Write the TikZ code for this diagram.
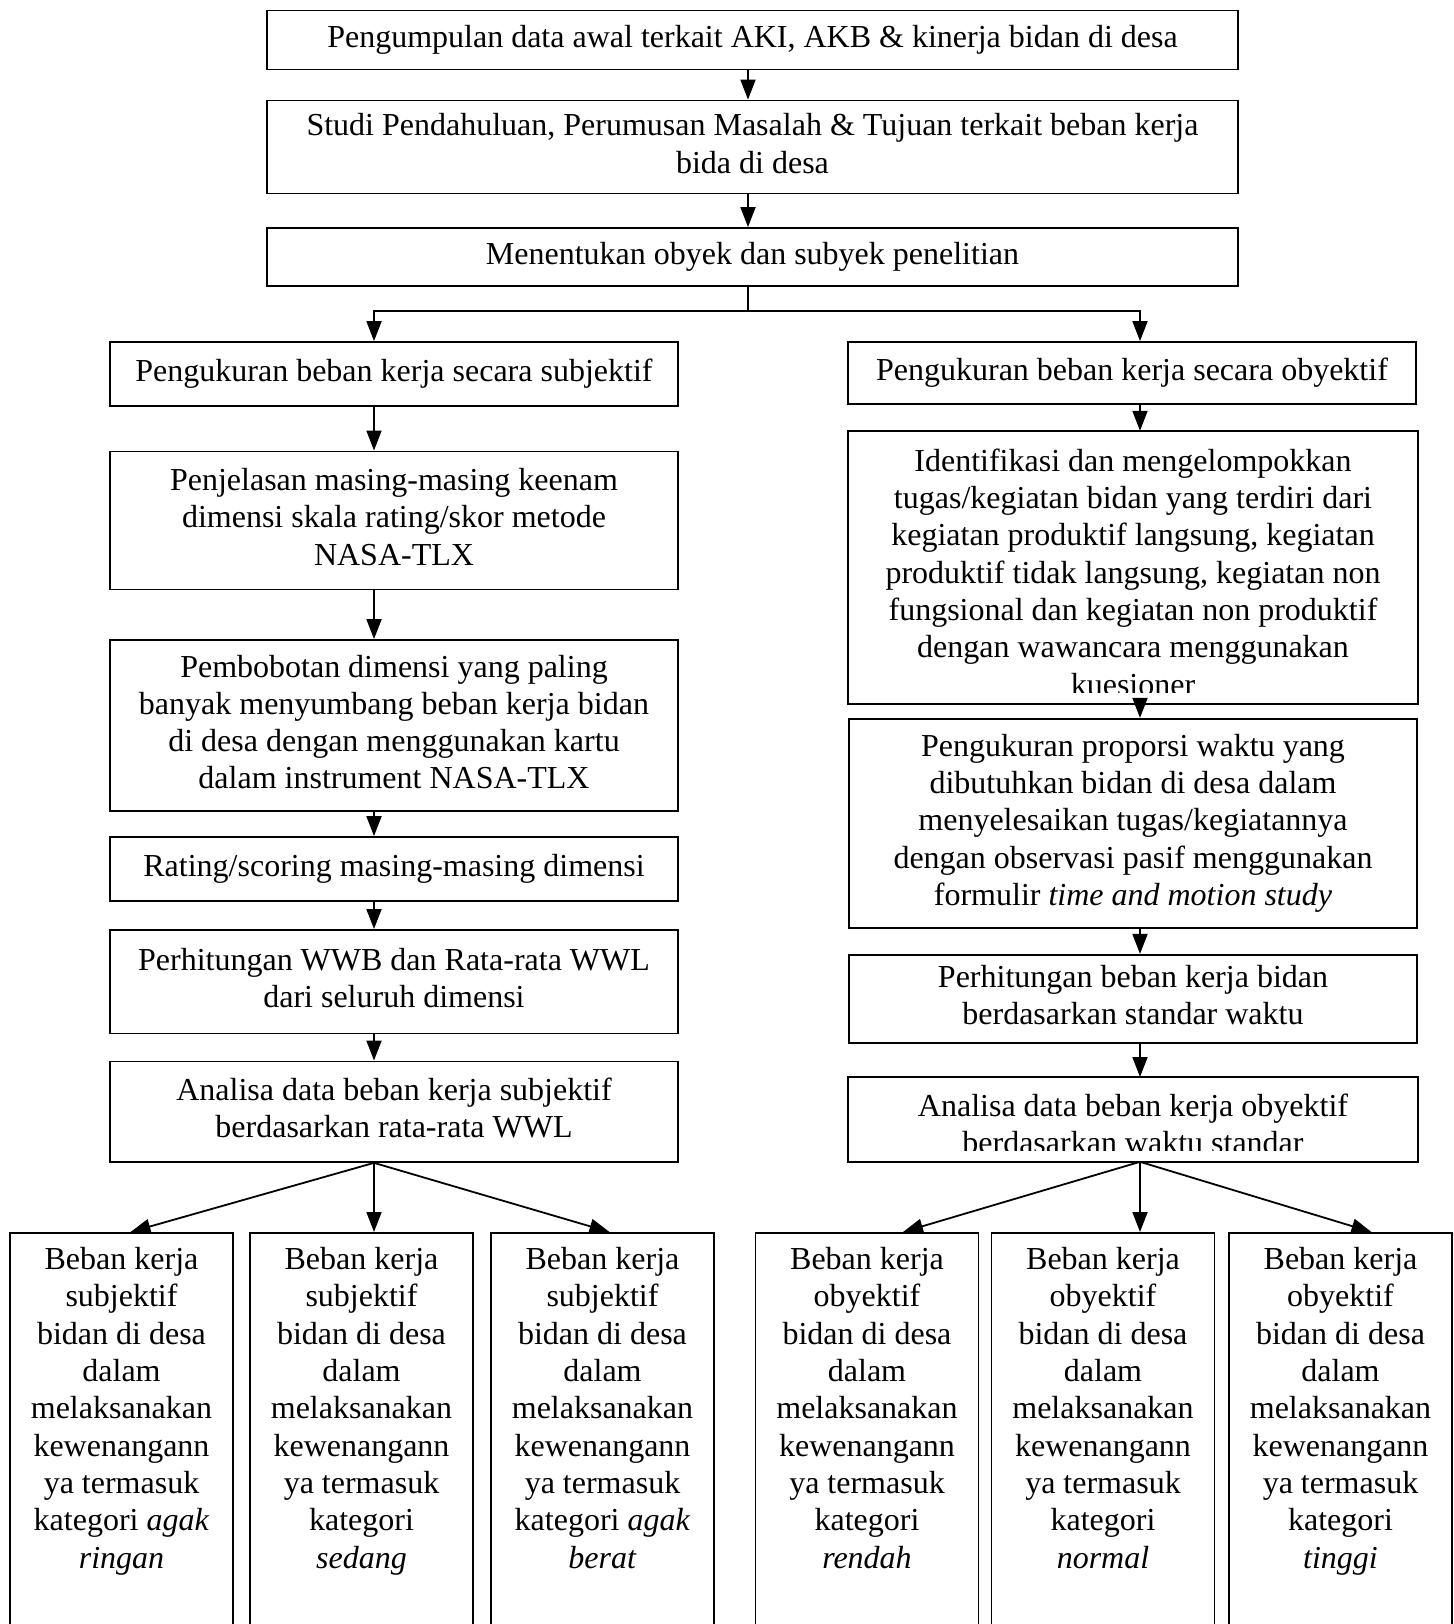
\documentclass[tikz,border=0pt]{standalone}
\usepackage{fontspec}
\setmainfont{Liberation Serif}
\usetikzlibrary{arrows.meta}

\begin{document}
\begin{tikzpicture}[x=1pt,y=-1pt,line width=1.8pt,
		box/.style={draw, align=center, inner xsep=10pt, inner ysep=4pt, font=\fontsize{32}{37.3}\selectfont, execute at begin node={\spaceskip=.25em\xspaceskip=.25em\strut}, execute at end node=\strut},
		wide/.style={box, text width=951pt},
		col/.style={box, text width=548pt},
		leaf/.style={box, text width=201pt, inner xsep=11pt, inner ysep=0pt, anchor=north, text height=36.7pt, text depth=390pt},
		>={Triangle[length=20pt,width=15pt]}]
			\useasboundingbox (0,0) rectangle (1453,1624);
			\coordinate (colL) at (374,0);
			\coordinate (colM) at (748,0);
			\coordinate (colR) at (1140,0);
			\coordinate (split) at (748,311);

			\node[wide, minimum height=59pt] (a1) at (752.5,40) {Pengumpulan data awal terkait AKI, AKB \& kinerja bidan di desa};
			\node[wide, minimum height=93pt] (a2) at (752.5,147) {Studi Pendahuluan, Perumusan Masalah \& Tujuan terkait beban kerja\\ bida di desa};
			\node[wide, minimum height=58pt] (a3) at (752.5,257) {Menentukan obyek dan subyek penelitian};

			% kolom subjektif
			\node[col, minimum height=64pt] (l1) at (394,374) {Pengukuran beban kerja secara subjektif};
			\node[col, minimum height=138pt] (l2) at (394,520.4) {Penjelasan masing-masing keenam\\ dimensi skala rating/skor metode\\ NASA-TLX};
			\node[col, minimum height=171pt] (l3) at (394,725.5) {Pembobotan dimensi yang paling\\ banyak menyumbang beban kerja bidan\\ di desa dengan menggunakan kartu\\ dalam instrument NASA-TLX};
			\node[col, minimum height=64pt] (l4) at (394,869) {Rating/scoring masing-masing dimensi};
			\node[col, minimum height=103.5pt] (l5) at (394,981.7) {Perhitungan WWB dan Rata-rata WWL\\ dari seluruh dimensi};
			\node[col, minimum height=100.5pt] (l6) at (394,1111.7) {Analisa data beban kerja subjektif\\ berdasarkan rata-rata WWL};

			% kolom obyektif
			\node[col, minimum height=62pt] (r1) at (1132,373) {Pengukuran beban kerja secara obyektif};
			\begin{scope}
				\clip (830,420) rectangle (1440,692);
				\node[col, draw=none, anchor=north, inner ysep=0pt, text height=39.5pt, text depth=231.8pt] (r2) at (1133,430.8) {Identifikasi dan mengelompokkan\\ tugas/kegiatan bidan yang terdiri dari\\ kegiatan produktif langsung, kegiatan\\ produktif tidak langsung, kegiatan non\\ fungsional dan kegiatan non produktif\\ dengan wawancara menggunakan\\ kuesioner};
			\end{scope}
			\draw (r2.north west) rectangle (r2.south east);
			\node[col, minimum height=209pt] (r3) at (1133,823.3) {Pengukuran proporsi waktu yang\\ dibutuhkan bidan di desa dalam\\ menyelesaikan tugas/kegiatannya\\ dengan observasi pasif menggunakan\\ formulir \textit{time and motion study}};
			\node[col, minimum height=88pt] (r4) at (1133,998.8) {Perhitungan beban kerja bidan\\ berdasarkan standar waktu};
			\begin{scope}
				\clip (830,1065) rectangle (1440,1150);
				\node[col, draw=none, anchor=north, inner ysep=0pt, text height=38.3pt, text depth=44.7pt] (r5) at (1133,1077) {Analisa data beban kerja obyektif\\ berdasarkan waktu standar};
			\end{scope}
			\draw (r5.north west) rectangle (r5.south east);

			% kategori
			\node[leaf] (b1) at (121.5,1232) {Beban kerja\\ subjektif\\ bidan di desa\\ dalam\\ melaksanakan\\ kewenangann\\ ya termasuk\\ kategori \textit{agak}\\ \textit{ringan}};
			\node[leaf] (b2) at (361.5,1232) {Beban kerja\\ subjektif\\ bidan di desa\\ dalam\\ melaksanakan\\ kewenangann\\ ya termasuk\\ kategori\\ \textit{sedang}};
			\node[leaf] (b3) at (602.5,1232) {Beban kerja\\ subjektif\\ bidan di desa\\ dalam\\ melaksanakan\\ kewenangann\\ ya termasuk\\ kategori \textit{agak}\\ \textit{berat}};
			\node[leaf] (b4) at (867,1232) {Beban kerja\\ obyektif\\ bidan di desa\\ dalam\\ melaksanakan\\ kewenangann\\ ya termasuk\\ kategori\\ \textit{rendah}};
			\node[leaf] (b5) at (1103,1232) {Beban kerja\\ obyektif\\ bidan di desa\\ dalam\\ melaksanakan\\ kewenangann\\ ya termasuk\\ kategori\\ \textit{normal}};
			\node[leaf] (b6) at (1340.5,1232) {Beban kerja\\ obyektif\\ bidan di desa\\ dalam\\ melaksanakan\\ kewenangann\\ ya termasuk\\ kategori\\ \textit{tinggi}};

			\path[->]
				(a1.south -| colM) edge (a2.north -| colM)
				(a2.south -| colM) edge (a3.north -| colM);
			\draw (a3.south -| colM) -- (split);
			\draw[->] (split) -| (l1.north -| colL);
			\draw[->] (split) -| (r1.north -| colR);
			\path[->]
				(l1.south -| colL) edge (l2.north -| colL)
				(l2.south -| colL) edge (l3.north -| colL)
				(l3.south -| colL) edge (l4.north -| colL)
				(l4.south -| colL) edge (l5.north -| colL)
				(l5.south -| colL) edge (l6.north -| colL)
				(r1.south -| colR) edge (r2.north -| colR)
				(r2.south -| colR) edge (r3.north -| colR)
				(r3.south -| colR) edge (r4.north -| colR)
				(r4.south -| colR) edge (r5.north -| colR);
			\path[->]
				(l6.south -| colL) edge ([xshift=9pt]b1.north) edge (b2.north -| colL) edge ([xshift=7pt]b3.north)
				(r5.south -| colR) edge ([xshift=36pt]b4.north) edge (b5.north -| colR) edge ([xshift=31pt]b6.north);
		\end{tikzpicture}
\end{document}
